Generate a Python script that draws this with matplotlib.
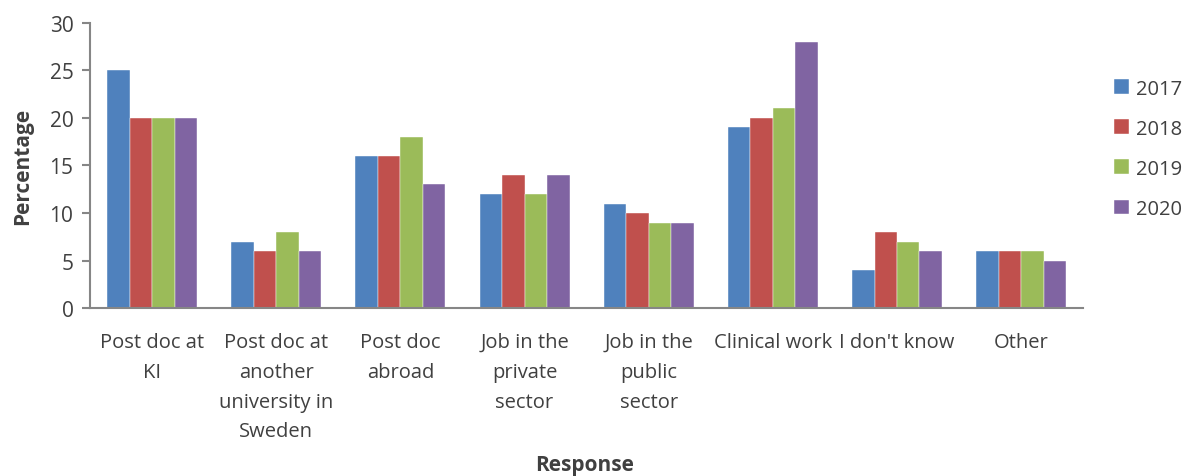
import matplotlib.pyplot as plt
import numpy as np

plt.rcParams['font.family'] = ['Open Sans', 'DejaVu Sans']

categories = ["Post doc at\nKI", "Post doc at\nanother\nuniversity in\nSweden", "Post doc\nabroad",
              "Job in the\nprivate\nsector", "Job in the\npublic\nsector", "Clinical work",
              "I don't know", "Other"]
years = ["2017", "2018", "2019", "2020"]
v2017 = [25, 7, 16, 12, 11, 19, 4, 6]
v2018 = [20, 6, 16, 14, 10, 20, 8, 6]
v2019 = [20, 8, 18, 12, 9, 21, 7, 6]
v2020 = [20, 6, 13, 14, 9, 28, 6, 5]
colors = ['#4F81BD', '#C0504D', '#9BBB59', '#8064A2']

fig = plt.figure(figsize=(11.88, 4.77), dpi=100)
ax = fig.add_axes([0.0758, 0.352, 0.836, 0.598])

x = np.arange(len(categories))
w = 0.181
for i, (vals, yr) in enumerate(zip([v2017, v2018, v2019, v2020], years)):
    ax.bar(x + (i - 1.5) * w, vals, w, color=colors[i], label=yr,
           edgecolor='white', linewidth=0.3)

ax.set_xlim(-0.5, len(categories) - 0.5)
ax.set_ylim(0, 30)
ax.set_yticks(range(0, 31, 5))
ax.set_xticks(x)
ax.set_xticklabels(categories, linespacing=1.66, va='top')

for s in ['top', 'right']:
    ax.spines[s].set_visible(False)
for s in ['left', 'bottom']:
    ax.spines[s].set_color('#868686')
    ax.spines[s].set_linewidth(1.5)
ax.tick_params(axis='x', length=0, pad=17, labelsize=14.5, colors='#404040')
ax.tick_params(axis='y', length=6, width=1.5, color='#868686', pad=6,
               labelsize=15, labelcolor='#404040')

ax.set_ylabel('Percentage', fontsize=15, fontweight='bold', color='#404040', labelpad=12)
fig.text(0.492, 0.002, 'Response', ha='center', va='bottom', fontsize=15,
         fontweight='bold', color='#404040')

leg = ax.legend(loc='center left', bbox_to_anchor=(0.938, 0.686), bbox_transform=fig.transFigure,
                frameon=False, fontsize=14.5, handlelength=0.75, handleheight=0.75,
                labelspacing=1.0, handletextpad=0.35, borderpad=0, borderaxespad=0)
for t in leg.get_texts():
    t.set_color('#404040')

fig.savefig('out.png', dpi=100)
